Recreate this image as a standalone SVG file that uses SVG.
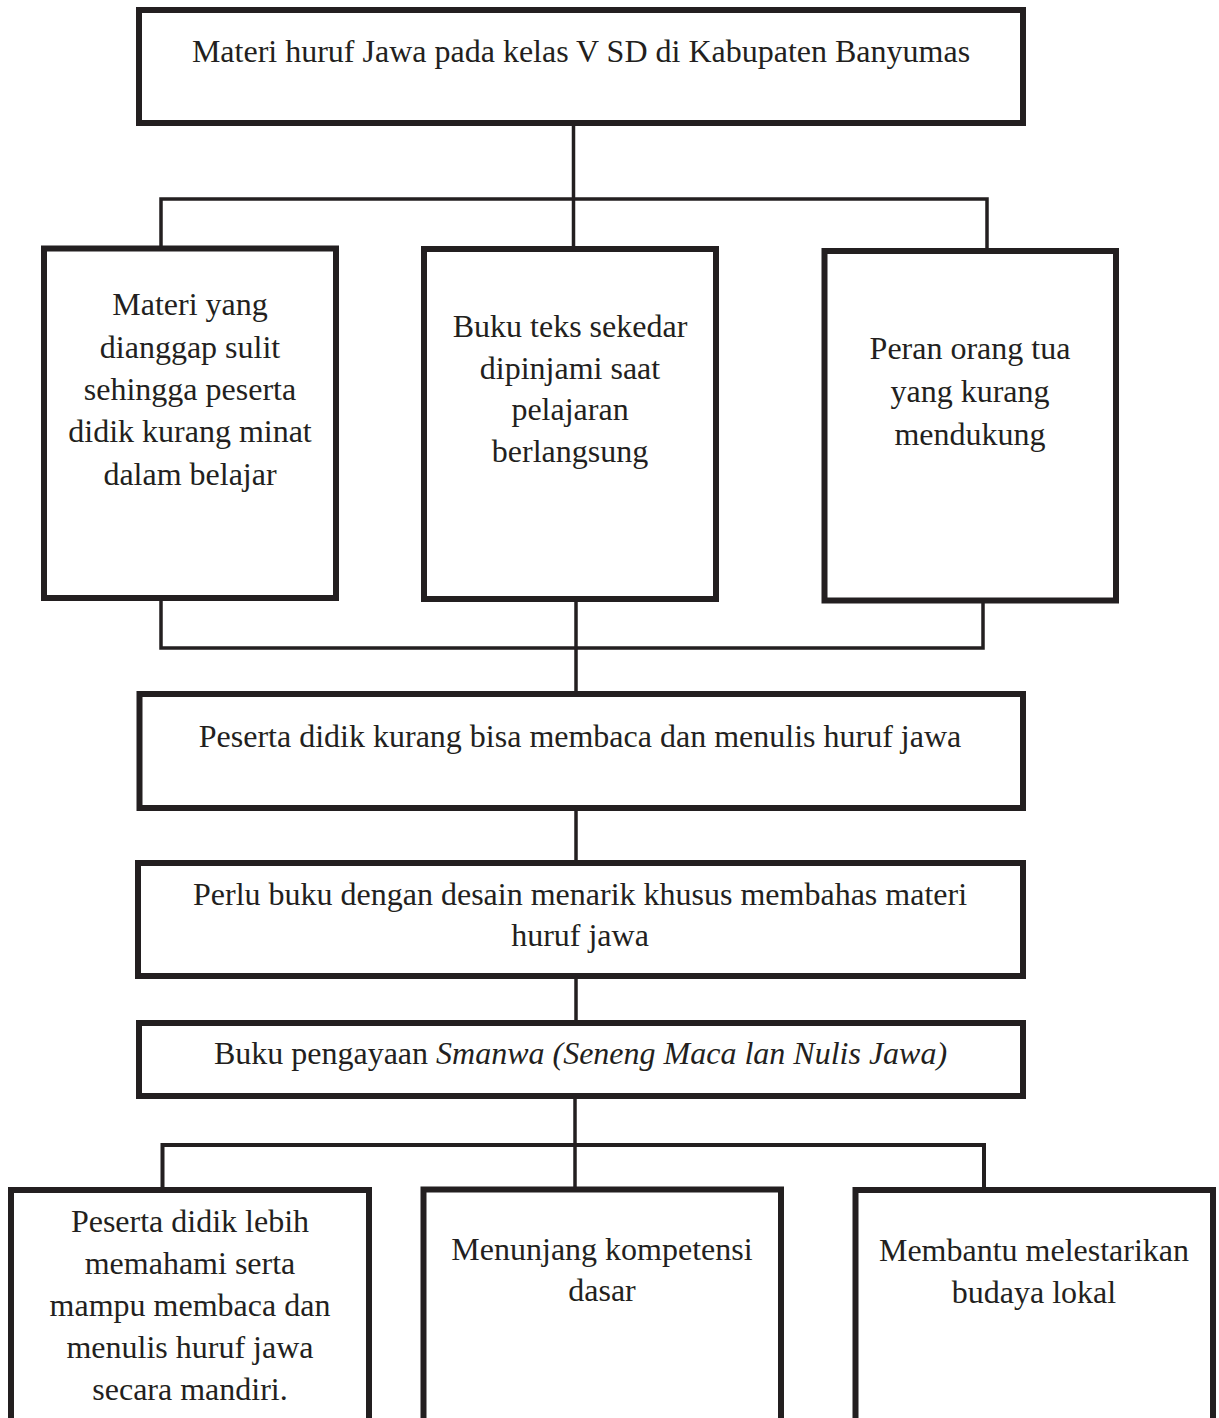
<svg xmlns="http://www.w3.org/2000/svg" width="1219" height="1418" viewBox="0 0 1219 1418">
<style>
.box{fill:#fff;stroke:#231f20;stroke-width:6}
.con{fill:none;stroke:#231f20;stroke-width:3.5;stroke-linejoin:miter}
text{font-family:"Liberation Serif","Times New Roman",serif;font-size:32px;fill:#231f20;text-anchor:middle}
.it{font-style:italic}
</style>
<rect width="1219" height="1418" fill="#fff"/>
<g id="connectors">
<path class="con" d="M573.5 123 V249"/>
<path class="con" d="M161 249 V199 H987 V251"/>
<path class="con" d="M161 598 V648 H983 V600"/>
<path class="con" d="M576 599 V694"/>
<path class="con" d="M576 808 V863"/>
<path class="con" d="M576 976 V1023"/>
<path class="con" d="M575 1096 V1190"/>
<path class="con" d="M162.5 1190 V1145 H984 V1190" style="stroke-width:4"/>
</g>
<g id="node-top">
<rect class="box" x="139" y="10" width="884" height="113"/>
<text x="581" y="62">Materi huruf Jawa pada kelas V SD di Kabupaten Banyumas</text>
</g>
<g id="node-cause1">
<rect class="box" x="44" y="248.5" width="292" height="349.5"/>
<text x="190" y="315">Materi yang</text>
<text x="190" y="357.5">dianggap sulit</text>
<text x="190" y="400">sehingga peserta</text>
<text x="190" y="442">didik kurang minat</text>
<text x="190" y="484.5">dalam belajar</text>
</g>
<g id="node-cause2">
<rect class="box" x="424" y="249" width="292" height="350"/>
<text x="570" y="336.5">Buku teks sekedar</text>
<text x="570" y="378.5">dipinjami saat</text>
<text x="570" y="420">pelajaran</text>
<text x="570" y="461.5">berlangsung</text>
</g>
<g id="node-cause3">
<rect class="box" x="824.5" y="251" width="291.5" height="349.5"/>
<text x="970" y="359">Peran orang tua</text>
<text x="970" y="402">yang kurang</text>
<text x="970" y="444.5">mendukung</text>
</g>
<g id="node-problem">
<rect class="box" x="139.5" y="694" width="883.5" height="114"/>
<text x="580" y="746.5">Peserta didik kurang bisa membaca dan menulis huruf jawa</text>
</g>
<g id="node-need">
<rect class="box" x="138" y="863" width="885" height="113"/>
<text x="580" y="904.5">Perlu buku dengan desain menarik khusus membahas materi</text>
<text x="580" y="946">huruf jawa</text>
</g>
<g id="node-book">
<rect class="box" x="139" y="1023" width="884" height="73"/>
<text x="580.5" y="1063.5">Buku pengayaan <tspan class="it">Smanwa (Seneng Maca lan Nulis Jawa)</tspan></text>
</g>
<g id="node-result1">
<rect class="box" x="11" y="1190" width="358" height="260"/>
<text x="190" y="1232">Peserta didik lebih</text>
<text x="190" y="1274">memahami serta</text>
<text x="190" y="1315.5">mampu membaca dan</text>
<text x="190" y="1357.5">menulis huruf jawa</text>
<text x="190" y="1400">secara mandiri.</text>
</g>
<g id="node-result2">
<rect class="box" x="423.5" y="1189.5" width="357.5" height="260"/>
<text x="602" y="1260">Menunjang kompetensi</text>
<text x="602" y="1301">dasar</text>
</g>
<g id="node-result3">
<rect class="box" x="855.5" y="1190" width="357.5" height="260"/>
<text x="1034" y="1261">Membantu melestarikan</text>
<text x="1034" y="1302.5">budaya lokal</text>
</g>
</svg>
